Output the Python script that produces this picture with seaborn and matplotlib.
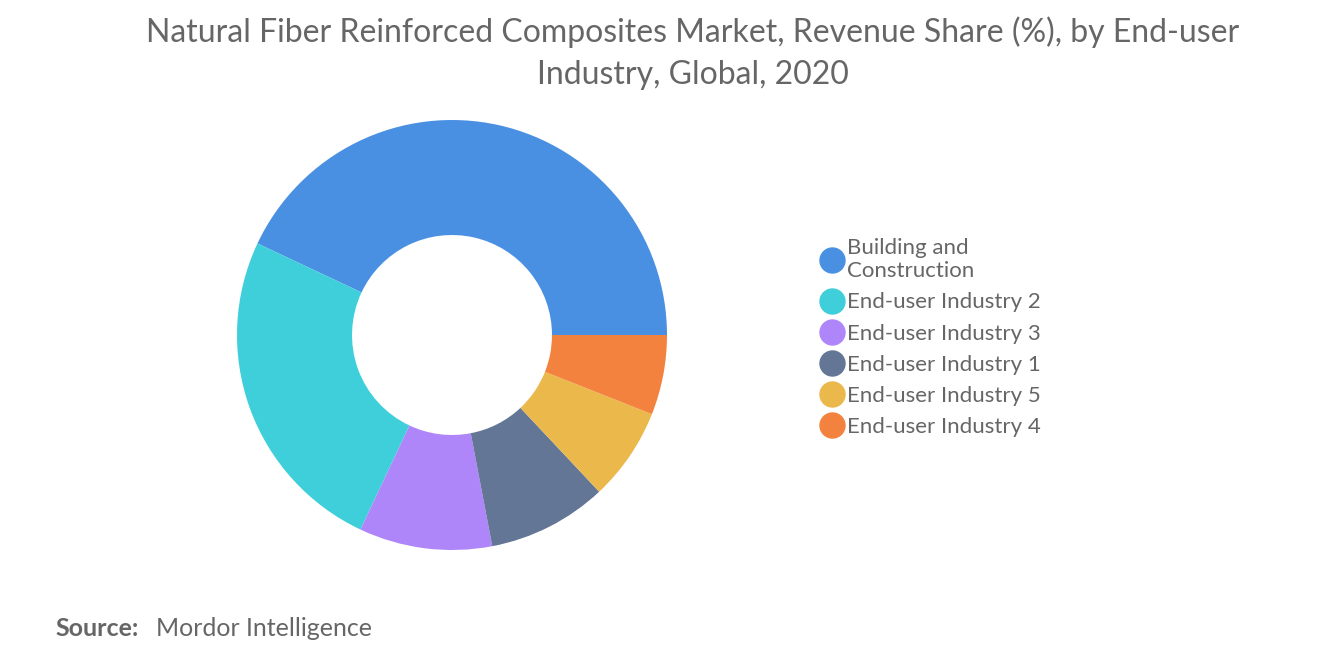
import matplotlib.pyplot as plt
import seaborn as sns
from matplotlib.lines import Line2D

labels = ["Building and\nConstruction", "End-user Industry 2", "End-user Industry 3",
          "End-user Industry 1", "End-user Industry 5", "End-user Industry 4"]
shares = [43, 25, 10, 9, 7, 6]
colors = ["#4A90E2", "#3ECFDA", "#AF86FA", "#637696", "#EBB84B", "#F3823E"]

sns.set_theme(style="white", font="Lato")
fig = plt.figure(figsize=(13.2, 6.65), dpi=100)

ax = fig.add_axes([(452 - 215) / 1320, (330 - 215) / 665, 430 / 1320, 430 / 665])
ax.pie(shares, colors=colors, startangle=0, counterclock=True, radius=1,
       wedgeprops=dict(width=0.535, edgecolor="white", linewidth=0))
ax.set_xlim(-1, 1)
ax.set_ylim(-1, 1)
ax.set_aspect("equal")

fig.text(0.525, 0.975, "Natural Fiber Reinforced Composites Market, Revenue Share (%), by End-user\nIndustry, Global, 2020",
         ha="center", va="top", fontsize=23, color="#666666", linespacing=1.5)

handles = [Line2D([], [], marker="o", linestyle="", markersize=18, markerfacecolor=c,
                  markeredgecolor=c) for c in colors]
fig.legend(handles, labels, loc="upper left", bbox_to_anchor=(0.605, 0.672), frameon=False,
           fontsize=16, labelcolor="#666666", handletextpad=0.1, labelspacing=0.5,
           handlelength=1.2)

fig.text(0.042, 0.055, "Source:", fontsize=18, color="#666666", fontweight="bold", va="center")
fig.text(0.118, 0.055, "Mordor Intelligence", fontsize=18, color="#666666", va="center")

fig.savefig("out.png", dpi=100)
